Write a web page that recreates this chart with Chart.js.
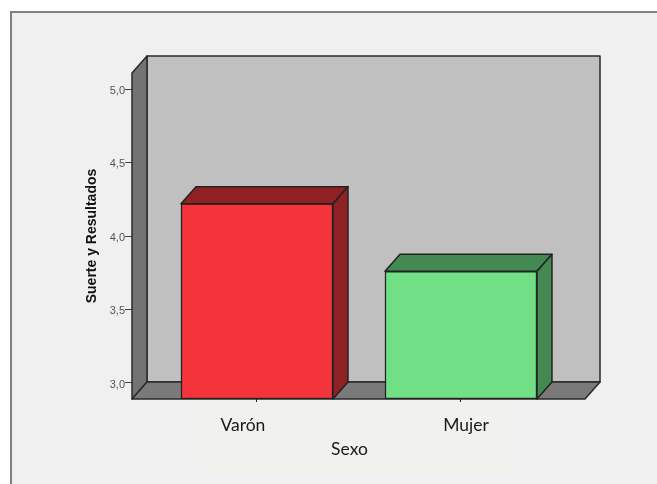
<!DOCTYPE html>
<html><head><meta charset="utf-8">
<script src="https://cdn.jsdelivr.net/npm/chart.js@4"></script>
<style>html,body{margin:0;padding:0;background:#fff}#w{position:absolute;left:0;top:0;width:657px;height:484px}</style>
</head><body><div id="w"><canvas id="c"></canvas></div>
<script>
const categories = ['Varón', 'Mujer'];
const values = [4.22, 3.76];
const barFill = ['#f4333a', '#70df86'];
const barShade = ['#8f2024', '#448852'];
const yTickValues = [3, 3.5, 4, 4.5, 5];
const xMarkPositions = [0, 1];
const xLabelPositions = [-0.069, 1.025];
const yTitle = 'Suerte y Resultados';
const xTitle = 'Sexo';
const yMin = 2.891, yMax = 5.109;
const xMin = -0.6127, xMax = 1.608;
const depthX = 15, depthY = 17;

const scene = {
  id: 'scene',
  beforeDraw(ch) {
    const g = ch.ctx;
    // the "Sexo" title sits left of the axis centre in the reference
    ch.scales.xLabels.right = ch.chartArea.right - 18;
    g.save();
    g.fillStyle = '#f0f0f0';
    g.fillRect(10, 11, ch.width - 10, ch.height - 11);
    g.fillStyle = '#808080';
    g.fillRect(10, 11, ch.width - 10, 2);
    g.fillRect(10, 11, 2, ch.height - 11);
    g.fillStyle = '#f1f2ee';
    g.fillRect(196, 400, 316, 70);
    g.restore();
  },
  beforeDatasetsDraw(ch) {
    const g = ch.ctx, a = ch.chartArea;
    const L = a.left, R = a.right, T = a.top, B = a.bottom;
    const dx = depthX, dy = depthY;
    const poly = (pts, fill) => {
      g.beginPath();
      pts.forEach((p, i) => i ? g.lineTo(p[0], p[1]) : g.moveTo(p[0], p[1]));
      g.closePath();
      g.fillStyle = fill; g.fill(); g.stroke();
    };
    g.save();
    g.lineJoin = 'round'; g.lineWidth = 1.5; g.strokeStyle = '#2a2a2a';
    poly([[L + dx, T - dy], [R + dx, T - dy], [R + dx, B - dy], [L + dx, B - dy]], '#c0c0c0');
    poly([[L, T], [L + dx, T - dy], [L + dx, B - dy], [L, B]], '#737373');
    poly([[L, B], [L + dx, B - dy], [R + dx, B - dy], [R, B]], '#7a7a7a');
    g.restore();
  },
  afterDatasetsDraw(ch) {
    const g = ch.ctx;
    const dx = depthX, dy = depthY;
    g.save();
    g.lineJoin = 'round'; g.lineWidth = 1.5; g.strokeStyle = '#222';
    ch.getDatasetMeta(0).data.forEach((b, i) => {
      const p = b.getProps(['x', 'y', 'base', 'width'], true);
      const l = p.x - p.width / 2, r = p.x + p.width / 2;
      g.fillStyle = barShade[i];
      g.beginPath();
      g.moveTo(l, p.y); g.lineTo(l + dx, p.y - dy); g.lineTo(r + dx, p.y - dy); g.lineTo(r, p.y);
      g.closePath(); g.fill(); g.stroke();
      g.beginPath();
      g.moveTo(r, p.y); g.lineTo(r + dx, p.y - dy); g.lineTo(r + dx, p.base - dy); g.lineTo(r, p.base);
      g.closePath(); g.fill(); g.stroke();
    });
    g.restore();
  }
};

new Chart(document.getElementById('c'), {
  type: 'bar',
  plugins: [scene],
  data: {
    datasets: [{
      data: categories.map((c, i) => ({ x: xMarkPositions[i], y: values[i] })),
      base: yMin,
      backgroundColor: barFill,
      borderColor: '#222',
      borderWidth: 1.5,
      borderSkipped: false,
      barThickness: 152
    }]
  },
  options: {
    responsive: true,
    maintainAspectRatio: false,
    animation: false,
    layout: { padding: { left: 84, right: 72, top: 73, bottom: 0 } },
    plugins: { legend: { display: false }, tooltip: { enabled: false } },
    scales: {
      x: {
        type: 'linear', position: 'bottom', offset: false,
        min: xMin, max: xMax,
        afterBuildTicks: s => { s.ticks = xMarkPositions.map(v => ({ value: v })); },
        afterFit: s => { s.height = 4; },
        grid: { display: true, offset: false, drawOnChartArea: false, drawTicks: true, tickLength: 3, color: '#222', lineWidth: 1 },
        border: { display: false },
        ticks: { display: false }
      },
      xLabels: {
        type: 'linear', position: 'bottom', offset: false,
        min: xMin, max: xMax,
        afterBuildTicks: s => { s.ticks = xLabelPositions.map(v => ({ value: v })); },
        afterFit: s => { s.height = 81; },
        grid: { display: false, offset: false },
        border: { display: false },
        ticks: {
          autoSkip: false, maxRotation: 0, minRotation: 0, padding: 4,
          color: '#1a1a1a', font: { family: 'Lato', size: 17.5 },
          callback: (v, i) => categories[i]
        },
        title: { display: true, text: xTitle, color: '#1a1a1a', padding: { top: 5, bottom: 24 }, font: { family: 'Lato', size: 17.5 } }
      },
      y: {
        min: yMin, max: yMax,
        afterBuildTicks: s => { s.ticks = yTickValues.map(v => ({ value: v })); },
        afterFit: s => { s.width = 48; },
        grid: { display: true, drawOnChartArea: false, drawTicks: true, tickLength: 7, color: '#444', lineWidth: 1 },
        border: { display: false },
        ticks: {
          padding: 0, labelOffset: 1.5, color: '#555', font: { family: '"Liberation Sans"', size: 11 },
          callback: v => v.toFixed(1).replace('.', ',')
        },
        title: { display: true, text: yTitle, color: '#111', padding: { top: 0, bottom: 0 }, font: { family: '"Liberation Sans"', size: 14, weight: 'bold' } }
      }
    }
  }
});
</script></body></html>
